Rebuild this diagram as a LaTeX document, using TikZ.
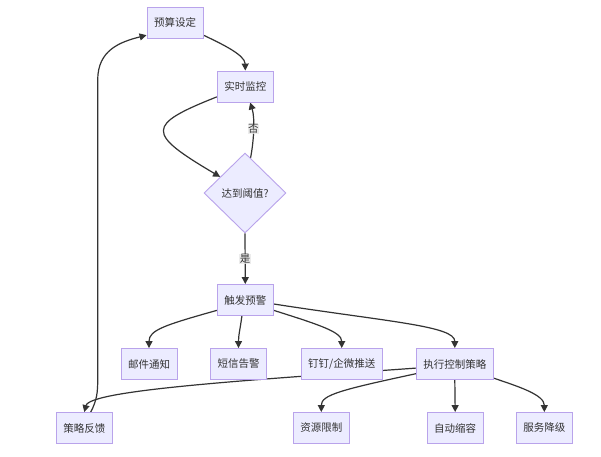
\documentclass[tikz,border=0pt]{standalone}
\usepackage{fontspec}
\newfontfamily\cjk{Noto Sans CJK SC}
\usetikzlibrary{shapes.geometric,arrows.meta,backgrounds}
\definecolor{nodefill}{HTML}{ECECFF}
\definecolor{nodeline}{HTML}{B9A3EB}
\definecolor{edgeline}{HTML}{333333}
\definecolor{lblbg}{HTML}{E8E8E8}
\tikzset{
  box/.style={draw=nodeline, fill=nodefill, line width=0.9pt, inner xsep=7pt, inner ysep=0pt,
    minimum height=31pt, text=edgeline, font=\cjk\fontsize{10.5pt}{12pt}\selectfont},
  decision/.style={diamond, draw=nodeline, fill=nodefill, line width=0.9pt, inner sep=0pt,
    minimum width=82pt, minimum height=80pt, text=edgeline, font=\cjk\fontsize{10.5pt}{12pt}\selectfont},
  flow/.style={draw=edgeline, line width=1.2pt, -{Triangle[length=7pt,width=7pt]}},
  lbl/.style={fill=lblbg, fill opacity=0.8, text opacity=1, inner sep=0.6pt, text=edgeline,
    font=\cjk\fontsize{10.5pt}{12pt}\selectfont}
}
\begin{document}
\begin{tikzpicture}[x=1pt,y=-1pt]
\useasboundingbox (0,0) rectangle (601,456);
\node[box] (ys) at (175,22.5) {预算设定};
\node[box] (jk) at (245.3,86.5) {实时监控};
\node[decision] (dz) at (245,193) {达到阈值?};
\node[box] (cf) at (245.3,300) {触发预警};
\node[box] (yj) at (149,364) {邮件通知};
\node[box] (dx) at (238.5,364) {短信告警};
\node[box] (dd) at (341.7,364) {钉钉/企微推送};
\node[box] (zx) at (454.8,364) {执行控制策略};
\node[box] (fk) at (84.3,428) {策略反馈};
\node[box] (zy) at (321.3,428) {资源限制};
\node[box] (zd) at (455.2,428) {自动缩容};
\node[box] (fw) at (544.3,428) {服务降级};
\begin{pgfonlayer}{background}
\fill[white] (0,0) rectangle (601,456);
\draw[flow] (ys.-24) .. controls (222,44) and (245,55) .. (jk.north);
\draw[flow] (jk.200) .. controls (146,125) and (146,133) .. (dz.147);
\draw[flow] (dz.81) .. controls (254,140) and (255,118) .. node[lbl, pos=0.5] {否} (jk.-73);
\draw[flow] (dz.south) -- node[lbl] {是} (cf.north);
\draw[flow] (cf.200) .. controls (165,325) and (149,330) .. (yj.north);
\draw[flow] (cf.-102) .. controls (240,330) and (238.5,335) .. (dx.north);
\draw[flow] (cf.-20) .. controls (320,325) and (341.7,332) .. (dd.north);
\draw[flow] (cf.-8) .. controls (390,322) and (454.8,326) .. (zx.north);
\draw[flow] (zx.186) .. controls (250,380) and (90,390) .. (fk.north);
\draw[flow] (fk.68) .. controls (97,400) and (97.7,392) .. (97.7,380) -- (97.7,80) .. controls (97.7,50) and (120,42) .. (ys.204);
\draw[flow] (zx.194) .. controls (340,390) and (321.3,395) .. (zy.north);
\draw[flow] (zx.south) -- (zd.north);
\draw[flow] (zx.-20) .. controls (520,387) and (544.3,395) .. (fw.north);
\end{pgfonlayer}
\end{tikzpicture}
\end{document}
